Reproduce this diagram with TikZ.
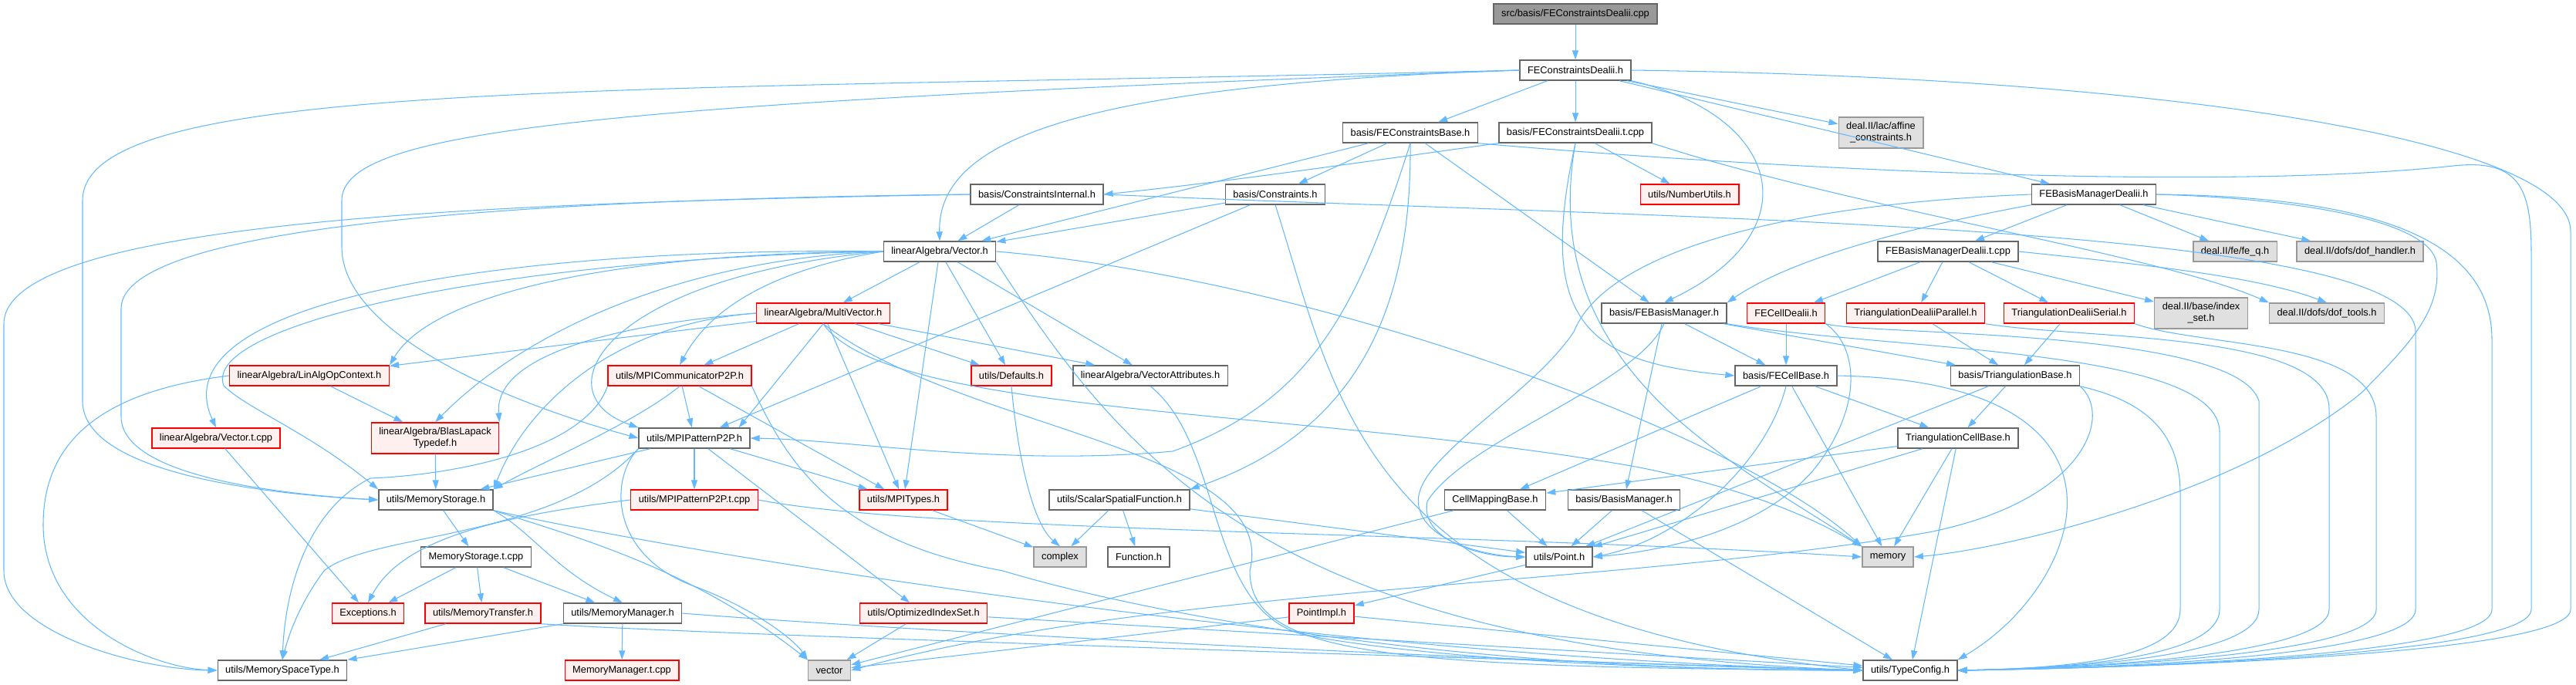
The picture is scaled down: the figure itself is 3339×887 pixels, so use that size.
\documentclass[tikz,border=0pt]{standalone}
\usepackage{fontspec}
\setmainfont{Liberation Sans}
\usetikzlibrary{arrows.meta, positioning, calc}
\definecolor{linkblue}{RGB}{99,184,255}
\definecolor{boxgrey}{RGB}{102,102,102}
\definecolor{sysline}{RGB}{153,153,153}
\definecolor{sysfill}{RGB}{224,224,224}
\definecolor{redfill}{RGB}{255,240,240}
\definecolor{topfill}{RGB}{153,153,153}

\begin{document}
\begin{tikzpicture}[
    x=0.02cm, y=-0.02cm,
    >={Triangle[length=0.24cm, width=0.16cm]},
    every node/.style={font=\fontsize{7.3}{8.6}\selectfont},
    file/.style={draw=boxgrey, fill=white, line width=0.8pt, inner xsep=0.2cm, inner ysep=0pt, minimum height=0.52cm},
    redfile/.style={file, draw=red, fill=redfill},
    sysfile/.style={file, draw=sysline, fill=sysfill},
    topfile/.style={file, fill=topfill},
    twoline/.style={align=center, minimum height=0.8cm},
    dep/.style={->, draw=linkblue, line width=0.6pt},
]
\useasboundingbox (0,0) rectangle (3339,887);

% ============================================================
% NODES, row by row
% ============================================================
\node[topfile] (src) at (2042,18) {src/basis/FEConstraintsDealii.cpp};
\node[file] (feh) at (2042,91) {FEConstraintsDealii.h};
% --- row 3 ---
\node[file] (fcb) at (1828,172) {basis/FEConstraintsBase.h};
\node[file] (fct) at (2042,172) {basis/FEConstraintsDealii.t.cpp};
\node[sysfile, twoline] (aff) at (2438,172) {deal.II/lac/affine\\\_constraints.h};
% --- row 4 ---
\node[file] (cin) at (1344,252) {basis/ConstraintsInternal.h};
\node[file] (con) at (1653,252) {basis/Constraints.h};
\node[redfile] (num) at (2190,252) {utils/NumberUtils.h};
\node[file] (fbd) at (2714,252) {FEBasisManagerDealii.h};
% --- row 5 ---
\node[file] (vec) at (1218,326) {linearAlgebra/Vector.h};
\node[file] (fbt) at (2525,326) {FEBasisManagerDealii.t.cpp};
\node[sysfile] (feq) at (2897,326) {deal.II/fe/fe\_q.h};
\node[sysfile] (dofh) at (3059,326) {deal.II/dofs/dof\_handler.h};
% --- row 6 ---
\node[redfile] (mvec) at (1067,406) {linearAlgebra/MultiVector.h};
\node[file] (fbm) at (2157,406) {basis/FEBasisManager.h};
\node[redfile] (fcd) at (2315,406) {FECellDealii.h};
\node[redfile] (tdp) at (2483,406) {TriangulationDealiiParallel.h};
\node[redfile] (tds) at (2682,406) {TriangulationDealiiSerial.h};
\node[sysfile, twoline] (idx) at (2853,406) {deal.II/base/index\\\_set.h};
\node[sysfile] (doft) at (3016,406) {deal.II/dofs/dof\_tools.h};
% --- row 7 ---
\node[redfile] (lao) at (401,487) {linearAlgebra/LinAlgOpContext.h};
\node[redfile] (mpic) at (881,487) {utils/MPICommunicatorP2P.h};
\node[redfile] (def) at (1311,487) {utils/Defaults.h};
\node[file] (vat) at (1491,487) {linearAlgebra/VectorAttributes.h};
\node[file] (fceb) at (2315,487) {basis/FECellBase.h};
\node[file] (trb) at (2612,487) {basis/TriangulationBase.h};
% --- row 8 ---
\node[redfile] (vtc) at (280,568) {linearAlgebra/Vector.t.cpp};
\node[redfile, twoline] (blas) at (564,568) {linearAlgebra/BlasLapack\\Typedef.h};
\node[file] (mpip) at (900,568) {utils/MPIPatternP2P.h};
\node[file] (tcb) at (2538,568) {TriangulationCellBase.h};
% --- row 9 ---
\node[file] (mst) at (565,648) {utils/MemoryStorage.h};
\node[redfile] (mpit) at (900,648) {utils/MPIPatternP2P.t.cpp};
\node[redfile] (mtyp) at (1171,648) {utils/MPITypes.h};
\node[file] (ssf) at (1451,648) {utils/ScalarSpatialFunction.h};
\node[file] (cmb) at (1938,648) {CellMappingBase.h};
\node[file] (bm) at (2105,648) {basis/BasisManager.h};
% --- row 10 ---
\node[file] (mstc) at (617,722) {MemoryStorage.t.cpp};
\node[sysfile] (cplx) at (1374,722) {complex};
\node[file] (fun) at (1476,722) {Function.h};
\node[file] (pt) at (2021,722) {utils/Point.h};
\node[sysfile] (mem) at (2447,722) {memory};
% --- row 11 ---
\node[redfile] (exc) at (477,795) {Exceptions.h};
\node[redfile] (mtr) at (626,795) {utils/MemoryTransfer.h};
\node[file] (mmg) at (807,795) {utils/MemoryManager.h};
\node[redfile] (ois) at (1197,795) {utils/OptimizedIndexSet.h};
\node[redfile] (pimp) at (1713,795) {PointImpl.h};
% --- row 12 ---
\node[file] (mspt) at (366,869) {utils/MemorySpaceType.h};
\node[redfile] (mmgt) at (806,869) {MemoryManager.t.cpp};
\node[sysfile] (vct) at (1075,869) {vector};
\node[file] (tcf) at (2476,869) {utils/TypeConfig.h};

% ============================================================
% EDGES: constraints part
% ============================================================
\draw[dep] (src) -- (feh);
\draw[dep] (feh) -- (fcb);
\draw[dep] (feh) -- (fct);
\draw[dep] (feh) -- (aff);
\draw[dep] (feh) -- (fbd);
\draw[dep] (feh.south east) .. controls (2310,150) and (2350,300) .. (fbm.north);
\draw[dep] (feh.west) .. controls (1400,110) and (1215,180) .. (vec.north);
\draw[dep] (feh.west) .. controls (800,120) and (107,100) .. (107,260) -- (107,520) .. controls (107,610) and (330,640) .. (mst.west);
\draw[dep] (feh.west) .. controls (750,135) and (443,170) .. (443,260) -- (443,320) .. controls (443,430) and (650,520) .. (mpip.west);
\draw[dep] (feh.east) .. controls (2800,100) and (3332,180) .. (3332,300) -- (3332,790) .. controls (3332,850) and (2750,866) .. (tcf.east);
% FEConstraintsBase.h
\draw[dep] (fcb) -- (vec);
\draw[dep] (fcb) -- (con);
\draw[dep] (fcb) -- (fbm);
\draw[dep] (fcb.south) .. controls (1760,400) and (1700,520) .. (1520,585) .. controls (1300,605) and (1100,570) .. (mpip.east);
\draw[dep] (fcb.south) .. controls (1830,400) and (1760,560) .. (ssf.north east);
\draw[dep] (fcb.south east) .. controls (2250,215) and (2850,250) .. (3180,215) .. controls (3270,205) and (3281,250) .. (3281,330) -- (3281,790) .. controls (3281,850) and (2750,866) .. (tcf.east);
% FEConstraintsDealii.t.cpp
\draw[dep] (fct.south west) .. controls (1800,205) and (1600,235) .. (cin.east);
\draw[dep] (fct) -- (num);
\draw[dep] (fct.south east) .. controls (2400,270) and (2800,330) .. (doft.north west);
\draw[dep] (fct.south) .. controls (1990,420) and (2060,470) .. (fceb.west);
\draw[dep] (fct.south) .. controls (1990,480) and (2250,600) .. (mem.north west);
% Constraints.h and ConstraintsInternal.h
\draw[dep] (con) -- (vec);
\draw[dep] (con) -- (mpip);
\draw[dep] (con.south) .. controls (1735,520) and (1760,800) .. (tcf.west);
\draw[dep] (cin) -- (vec);
\draw[dep] (cin.west) .. controls (700,258) and (157,290) .. (157,400) -- (157,540) .. controls (157,615) and (350,640) .. (mst.west);
\draw[dep] (cin.west) .. controls (700,262) and (5,280) .. (5,420) -- (5,740) .. controls (5,820) and (180,868) .. (mspt.west);
\draw[dep] (cin.east) .. controls (2200,285) and (3131,290) .. (3131,430) -- (3131,790) .. controls (3131,850) and (2750,866) .. (tcf.east);

% ============================================================
% EDGES: basis manager part
% ============================================================
\draw[dep] (fbd.south west) .. controls (2500,290) and (2330,330) .. (fbm.north east);
\draw[dep] (fbd) -- (fbt);
\draw[dep] (fbd) -- (feq);
\draw[dep] (fbd) -- (dofh);
\draw[dep] (fbd.east) .. controls (3100,255) and (3230,320) .. (3230,440) -- (3230,790) .. controls (3230,850) and (2750,866) .. (tcf.east);
\draw[dep] (fbd.west) .. controls (2300,265) and (2080,330) .. (2040,430) .. controls (1980,520) and (1820,600) .. (1840,660) .. controls (1850,700) and (1920,720) .. (pt.west);
\draw[dep] (fbd.east) .. controls (3000,258) and (3150,290) .. (3158,340) .. controls (3165,400) and (3130,440) .. (3060,510) .. controls (2900,640) and (2600,712) .. (mem.east);
% FEBasisManagerDealii.t.cpp
\draw[dep] (fbt) -- (fcd);
\draw[dep] (fbt) -- (tdp);
\draw[dep] (fbt) -- (tds);
\draw[dep] (fbt) -- (idx);
\draw[dep] (fbt.east) .. controls (2800,345) and (2930,360) .. (doft.north);
% cells and triangulations
\draw[dep] (fcd) -- (fceb);
\draw[dep] (fcd.south east) .. controls (2410,450) and (2415,530) .. (2350,610) .. controls (2280,690) and (2150,715) .. (pt.east);
\draw[dep] (fcd.south east) .. controls (2420,435) and (2900,425) .. (2928,520) -- (2928,790) .. controls (2928,850) and (2700,866) .. (tcf.east);
\draw[dep] (tdp) -- (trb);
\draw[dep] (tdp.south east) .. controls (2700,440) and (3019,430) .. (3019,530) -- (3019,790) .. controls (3019,850) and (2700,866) .. (tcf.east);
\draw[dep] (tds) -- (trb);
\draw[dep] (tds.south east) .. controls (2850,450) and (3080,440) .. (3080,540) -- (3080,790) .. controls (3080,850) and (2700,866) .. (tcf.east);
% FEBasisManager.h
\draw[dep] (fbm) -- (bm);
\draw[dep] (fbm) -- (fceb);
\draw[dep] (fbm) -- (trb);
\draw[dep] (fbm.south) .. controls (2120,500) and (1900,570) .. (1850,650) .. controls (1840,700) and (1920,722) .. (pt.west);
\draw[dep] (fbm.south east) .. controls (2450,455) and (2877,450) .. (2877,560) -- (2877,790) .. controls (2877,850) and (2700,866) .. (tcf.east);
% FECellBase.h
\draw[dep] (fceb) -- (cmb);
\draw[dep] (fceb.south) .. controls (2290,600) and (2180,700) .. (pt.east);
\draw[dep] (fceb) -- (mem);
\draw[dep] (fceb) -- (tcb);
\draw[dep] (fceb.east) .. controls (2800,495) and (2700,760) .. (tcf.north east);
% TriangulationBase.h
\draw[dep] (trb) -- (tcb);
\draw[dep] (trb) -- (pt);
\draw[dep] (trb.south east) .. controls (2780,520) and (2826,560) .. (2826,640) -- (2826,790) .. controls (2826,850) and (2700,866) .. (tcf.east);
\draw[dep] (trb.south east) .. controls (2740,540) and (2700,650) .. (2500,690) .. controls (2100,760) and (1500,760) .. (vct.east);
% TriangulationCellBase.h
\draw[dep] (tcb) -- (cmb);
\draw[dep] (tcb) -- (pt);
\draw[dep] (tcb) -- (mem);
\draw[dep] (tcb) -- (tcf);
% small leaves
\draw[dep] (cmb) -- (pt);
\draw[dep] (cmb) -- (vct);
\draw[dep] (bm) -- (pt);
\draw[dep] (bm) -- (tcf);
\draw[dep] (pt) -- (pimp);
\draw[dep] (pimp) -- (tcf);
\draw[dep] (pimp) -- (vct);
\draw[dep] (ssf) -- (cplx);
\draw[dep] (ssf) -- (fun);
\draw[dep] (ssf) -- (pt);

% ============================================================
% EDGES: linear algebra and utils part
% ============================================================
\draw[dep] (vec) -- (mvec);
\draw[dep] (vec.west) .. controls (1000,350) and (920,400) .. (mpic.north);
\draw[dep] (vec.west) .. controls (780,360) and (700,510) .. (mpip.north west);
\draw[dep] (vec) -- (mtyp);
\draw[dep] (vec) -- (def);
\draw[dep] (vec) -- (vat);
\draw[dep] (vec.west) .. controls (900,335) and (690,420) .. (blas.north);
\draw[dep] (vec.west) .. controls (800,328) and (560,380) .. (lao.north east);
\draw[dep] (vec.west) .. controls (700,320) and (200,380) .. (vtc.north);
\draw[dep] (vec.west) .. controls (650,335) and (260,420) .. (290,500) .. controls (320,530) and (400,560) .. (mst.north west);
\draw[dep] (vec.east) .. controls (1700,360) and (2250,560) .. (mem.north west);
\draw[dep] (vec.south east) .. controls (1460,600) and (1650,840) .. (tcf.west);
% MultiVector.h
\draw[dep] (mvec) -- (lao);
\draw[dep] (mvec.west) .. controls (800,420) and (640,460) .. (blas.north east);
\draw[dep] (mvec) -- (mpic);
\draw[dep] (mvec.south) -- ([xshift=-0.3cm]mpip.north east);
\draw[dep] (mvec) -- (mtyp);
\draw[dep] (mvec) -- (def);
\draw[dep] (mvec) -- (vat);
\draw[dep] (mvec.west) .. controls (790,420) and (680,530) .. (mst.north east);
\draw[dep] (mvec.south) .. controls (1150,540) and (1700,530) .. (2120,605) .. controls (2300,640) and (2380,690) .. (mem.north west);
\draw[dep] (mvec.south) .. controls (1250,560) and (1660,580) .. (1620,740) .. controls (1620,850) and (1800,865) .. (tcf.west);
% MPICommunicatorP2P.h
\draw[dep] (mpic) -- (mpip);
\draw[dep] (mpic) -- (mtyp);
\draw[dep] (mpic.south) .. controls (820,550) and (700,600) .. (mst.north east);
\draw[dep] (mpic.south west) .. controls (760,580) and (600,615) .. (480,620) .. controls (400,660) and (370,760) .. (mspt.north);
\draw[dep] (mpic.south east) .. controls (1020,600) and (1080,700) .. (1300,740) .. controls (1500,800) and (1900,870) .. (tcf.west);
% MPIPatternP2P.h
\draw[dep] (mpip) -- (mpit);
\draw[dep] (mpip) -- (mtyp);
\draw[dep] (mpip) -- (mst);
\draw[dep] (mpip) -- (ois);
\draw[dep] (mpip.south west) .. controls (720,700) and (480,690) .. (420,740) .. controls (390,780) and (375,820) .. (mspt.north);
\draw[dep] (mpip.south west) .. controls (790,620) and (790,720) .. (900,760) .. controls (980,790) and (1030,830) .. (vct.north west);
\draw[dep] (mpit.west) .. controls (640,670) and (520,700) .. (exc.north);
\draw[dep] (mpit.east) .. controls (1200,690) and (1900,690) .. (mem.west);
% small utils
\draw[dep] (mtyp) -- (cplx);
\draw[dep] (def.south) .. controls (1320,600) and (1340,680) .. (cplx.north);
\draw[dep] (vat.south) .. controls (1590,580) and (1560,800) .. (1700,825) .. controls (1900,860) and (2200,868) .. (tcf.west);
% MemoryStorage.h
\draw[dep] (mst) -- (mstc);
\draw[dep] (mst.south east) .. controls (690,690) and (720,740) .. (mmg.north);
\draw[dep] (mst.south east) .. controls (760,700) and (900,740) .. (vct.north west);
\draw[dep] (mst.south east) .. controls (900,720) and (1700,850) .. (tcf.west);
\draw[dep] (mstc) -- (exc);
\draw[dep] (mstc) -- (mtr);
\draw[dep] (mstc) -- (mmg);
\draw[dep] (mtr) -- (mspt);
\draw[dep] (mtr.south east) .. controls (900,822) and (1800,850) .. (tcf.west);
\draw[dep] (mmg.south west) -- (mspt.north east);
\draw[dep] (mmg) -- (mmgt);
\draw[dep] (mmg.east) .. controls (1200,820) and (2000,860) .. (tcf.west);
% remaining leaves
\draw[dep] (lao) -- (blas);
\draw[dep] (lao.west) .. controls (150,505) and (56,560) .. (56,680) .. controls (56,810) and (200,866) .. (mspt.west);
\draw[dep] (vtc) -- (exc);
\draw[dep] (blas) -- (mst);
\draw[dep] (ois) -- (tcf);
\draw[dep] (ois) -- (vct);

\end{tikzpicture}
\end{document}
